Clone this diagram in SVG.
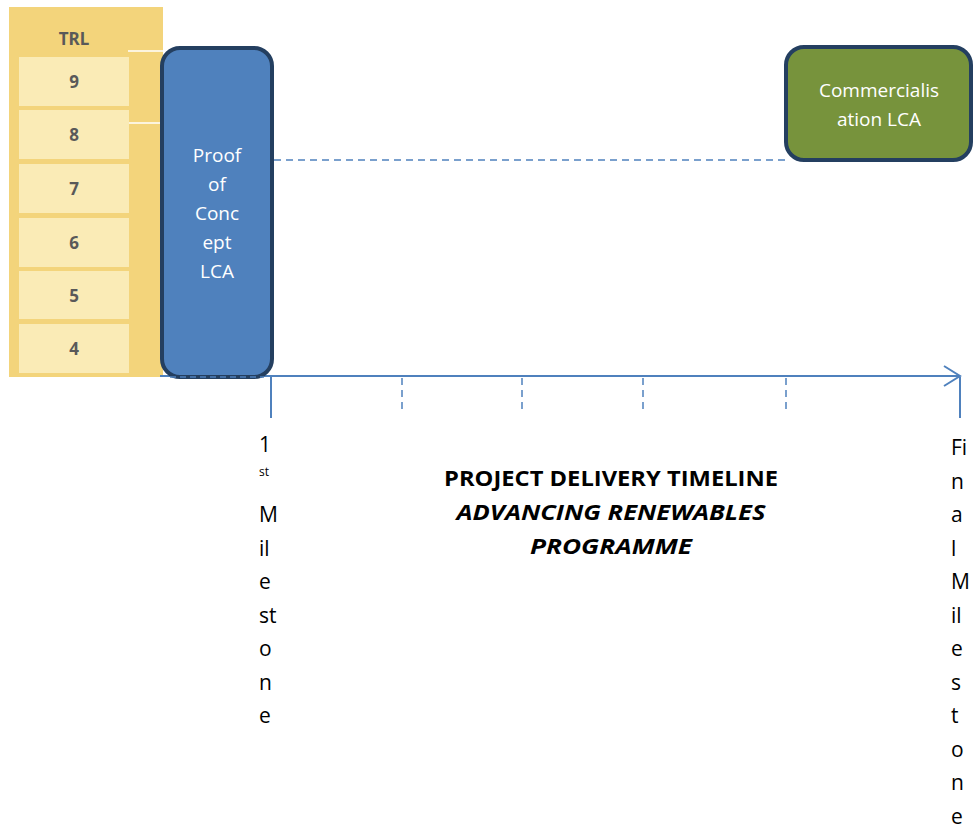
<svg xmlns="http://www.w3.org/2000/svg" width="974" height="831" viewBox="0 0 974 831">
<style>
.trlbox{fill:#FAEBB6;}
.num{font-family:"Noto Sans","Liberation Sans",sans-serif;font-size:17px;font-weight:bold;fill:#595959;text-anchor:middle;}
.node{stroke:#243F60;stroke-width:4;}
.ntxt{font-family:"Open Sans","Liberation Sans",sans-serif;font-size:19px;fill:#ffffff;text-anchor:middle;}
.ms{font-family:"Open Sans","Liberation Sans",sans-serif;font-size:21px;fill:#000000;}
.sup{font-family:"Open Sans","Liberation Sans",sans-serif;font-size:12px;fill:#000000;}
.title{font-family:"Open Sans","Liberation Sans",sans-serif;font-size:21px;font-weight:bold;fill:#000000;text-anchor:middle;}
.ln{stroke:#4F81BD;stroke-width:2;fill:none;}
.dash{stroke:#4F81BD;stroke-width:1.5;fill:none;stroke-dasharray:7,5;}
</style>
<rect width="974" height="831" fill="#ffffff"/>
<g id="trl-panel">
<rect x="9" y="7" width="154" height="370" fill="#F3D47B"/>
<text class="num" x="74" y="45">TRL</text>
<line x1="128" y1="51" x2="163" y2="51" stroke="#ffffff" stroke-width="1.5"/>
<line x1="128" y1="123" x2="163" y2="123" stroke="#ffffff" stroke-width="1.5"/>
<rect class="trlbox" x="19" y="57" width="110" height="49"/>
<text class="num" x="74" y="88">9</text>
<rect class="trlbox" x="19" y="110" width="110" height="49"/>
<text class="num" x="74" y="141">8</text>
<rect class="trlbox" x="19" y="164" width="110" height="49"/>
<text class="num" x="74" y="195">7</text>
<rect class="trlbox" x="19" y="218" width="110" height="49"/>
<text class="num" x="74" y="249">6</text>
<rect class="trlbox" x="19" y="271" width="110" height="48"/>
<text class="num" x="74" y="302">5</text>
<rect class="trlbox" x="19" y="324" width="110" height="49"/>
<text class="num" x="74" y="355">4</text>
</g>
<g id="connectors">
<line class="dash" x1="274" y1="160" x2="790" y2="160"/>
<line class="ln" x1="160" y1="376" x2="959" y2="376"/>
<polyline class="ln" points="944,366 960,376 944,386"/>
<line class="ln" x1="271" y1="377" x2="271" y2="418"/>
<line class="ln" x1="960" y1="377" x2="960" y2="418"/>
<line class="dash" x1="402" y1="378" x2="402" y2="412" stroke-dasharray="8,5"/>
<line class="dash" x1="522" y1="378" x2="522" y2="412" stroke-dasharray="8,5"/>
<line class="dash" x1="643" y1="378" x2="643" y2="412" stroke-dasharray="8,5"/>
<line class="dash" x1="786" y1="378" x2="786" y2="412" stroke-dasharray="8,5"/>
</g>
<g id="proof-of-concept">
<rect class="node" x="162" y="48" width="110" height="329" rx="18" fill="#4F81BD"/>
<line x1="170" y1="377" x2="264" y2="377" stroke="#4F81BD" stroke-width="1.5" stroke-dasharray="6,4"/>
<text class="ntxt" x="217" y="162">Proof</text>
<text class="ntxt" x="217" y="191">of</text>
<text class="ntxt" x="217" y="220">Conc</text>
<text class="ntxt" x="217" y="249">ept</text>
<text class="ntxt" x="217" y="278">LCA</text>
</g>
<g id="commercialisation">
<rect class="node" x="786" y="47" width="185" height="113" rx="18" fill="#77933C"/>
<text class="ntxt" x="879" y="97">Commercialis</text>
<text class="ntxt" x="879" y="126">ation LCA</text>
</g>
<g id="first-milestone">
<text class="ms" x="259" y="452">1</text>
<text class="sup" x="259" y="476">st</text>
<text class="ms" x="259" y="522">M</text>
<text class="ms" x="259" y="555.5">il</text>
<text class="ms" x="259" y="589">e</text>
<text class="ms" x="259" y="622.5">st</text>
<text class="ms" x="259" y="656">o</text>
<text class="ms" x="259" y="689.5">n</text>
<text class="ms" x="259" y="723">e</text>
</g>
<g id="final-milestone">
<text class="ms" x="951" y="455">Fi</text>
<text class="ms" x="951" y="488.5">n</text>
<text class="ms" x="951" y="522">a</text>
<text class="ms" x="951" y="555.5">l</text>
<text class="ms" x="951" y="589">M</text>
<text class="ms" x="951" y="622.5">il</text>
<text class="ms" x="951" y="656">e</text>
<text class="ms" x="951" y="689.5">s</text>
<text class="ms" x="951" y="723">t</text>
<text class="ms" x="951" y="756.5">o</text>
<text class="ms" x="951" y="790">n</text>
<text class="ms" x="951" y="823.5">e</text>
</g>
<g id="title">
<text class="title" x="611" y="486" textLength="334" lengthAdjust="spacingAndGlyphs">PROJECT DELIVERY TIMELINE</text>
<text class="title" x="611" y="520" font-style="italic" textLength="309" lengthAdjust="spacingAndGlyphs">ADVANCING RENEWABLES</text>
<text class="title" x="611" y="554" font-style="italic" textLength="162" lengthAdjust="spacingAndGlyphs">PROGRAMME</text>
</g>
</svg>
